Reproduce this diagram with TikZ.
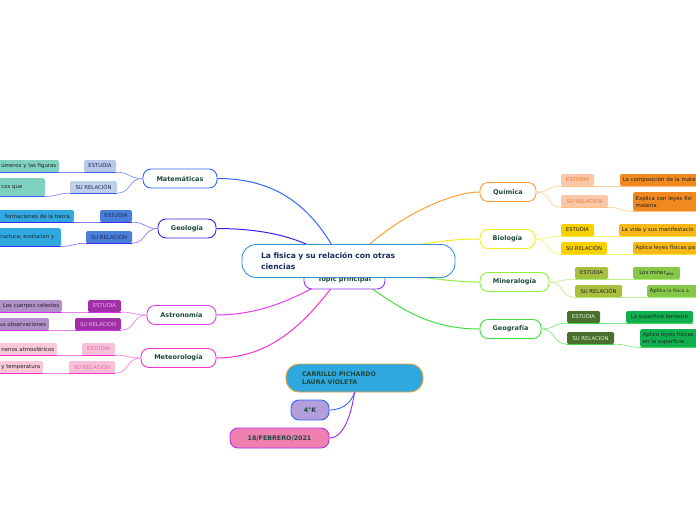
\documentclass[tikz,border=0pt]{standalone}
\usepackage{fontspec}
\setmainfont{DejaVu Sans}
\definecolor{maintext}{HTML}{1D4A3C}
\definecolor{centtext}{HTML}{1A2B5C}
\definecolor{txtdark}{HTML}{222222}
\definecolor{cMat}{HTML}{3366FF}\definecolor{lMat}{HTML}{8090FF}\definecolor{uMat}{HTML}{3A5CFF}
\definecolor{cGeo}{HTML}{3A20F0}\definecolor{lGeo}{HTML}{8A7DFF}\definecolor{uGeo}{HTML}{3A2BFF}
\definecolor{cAst}{HTML}{E040F0}\definecolor{lAst}{HTML}{E880F0}\definecolor{uAst}{HTML}{D030E8}
\definecolor{cMet}{HTML}{FF30D0}\definecolor{lMet}{HTML}{FF80E0}\definecolor{uMet}{HTML}{FF30D0}
\definecolor{cQui}{HTML}{FFA030}\definecolor{lQui}{HTML}{FFD0A0}\definecolor{uQui}{HTML}{FFC080}
\definecolor{cBio}{HTML}{F0F020}\definecolor{lBio}{HTML}{F4F470}\definecolor{uBio}{HTML}{F0E830}
\definecolor{cMin}{HTML}{90F040}\definecolor{lMin}{HTML}{C0F090}\definecolor{uMin}{HTML}{A8EC70}
\definecolor{cGeg}{HTML}{40E040}\definecolor{lGeg}{HTML}{80E880}\definecolor{uGeg}{HTML}{40D850}
\definecolor{cTop}{HTML}{9B30FF}
\definecolor{cCent}{HTML}{3A90D8}
\definecolor{cFec}{HTML}{A020F0}
\definecolor{cFecB}{HTML}{B030F0}
\definecolor{cCarB}{HTML}{E8A040}
\begin{document}
\begin{tikzpicture}[x=1pt,y=-1pt,
  mainnode/.style={draw, line width=0.9, rounded corners=8, fill=white, font=\fontsize{6.5}{7.5}\selectfont\bfseries, text=maintext, inner sep=0, minimum height=19},
  tagnode/.style={rounded corners=1.5, inner sep=0, minimum height=12, font=\fontsize{5.3}{6}\selectfont},
  txtnode/.style={rounded corners=1.5, inner xsep=2.5, inner ysep=0, minimum height=12, font=\fontsize{5.4}{6.4}\selectfont, text=txtdark},
  conn/.style={line width=0.7},
  uline/.style={line width=1.3},
  maincon/.style={line width=1},
  infonode/.style={draw, line width=0.9, rounded corners=8, inner sep=0, minimum height=20, font=\fontsize{6.3}{7.5}\selectfont\bfseries, text=maintext}
]
\useasboundingbox (0,0) rectangle (696,520);
\fill[white] (0,0) rectangle (696,520);
\clip (0,0) rectangle (696,520);

% hub coordinate
\coordinate (hub) at (345,270);

% main nodes
\node[mainnode, draw=cMat, minimum width=74] (mat) at (180,178.5) {Matemáticas};
\node[mainnode, draw=cGeo, minimum width=58] (geo) at (187,228.5) {Geología};
\node[mainnode, draw=cAst, minimum width=69] (ast) at (181.5,315) {Astronomía};
\node[mainnode, draw=cMet, minimum width=75] (met) at (178.5,358) {Meteorología};
\node[mainnode, draw=cQui, minimum width=56] (qui) at (508,192) {Química};
\node[mainnode, draw=cBio, minimum width=55] (bio) at (507.5,239) {Biología};
\node[mainnode, draw=cMin, minimum width=69] (min) at (514.5,282) {Mineralogía};
\node[mainnode, draw=cGeg, minimum width=61] (geg) at (510.5,329) {Geografía};

% main connectors
\draw[maincon, cMat] (mat.east) .. controls (282,178.5) and (318,212) .. (hub);
\draw[maincon, cGeo] (geo.east) .. controls (270,228.5) and (315,240) .. (hub);
\draw[maincon, cAst] (ast.east) .. controls (270,315) and (310,290) .. (hub);
\draw[maincon, cMet] (met.east) .. controls (280,358) and (315,310) .. (hub);
\draw[maincon, cQui] (qui.west) .. controls (450,192) and (385,220) .. (hub);
\draw[maincon, cBio] (bio.west) .. controls (455,239) and (400,242) .. (hub);
\draw[maincon, cMin] (min.west) .. controls (440,282) and (400,272) .. (hub);
\draw[maincon, cGeg] (geg.west) .. controls (420,329) and (390,300) .. (hub);

% topic principal (behind)
\node[draw=cTop, line width=0.9, rounded corners=8, fill=white, minimum width=81, minimum height=19, inner sep=0, text=maintext, font=\fontsize{6.5}{7.5}\selectfont\bfseries] (top) at (344.5,279.5) {\raisebox{-1.2pt}{Topic principal}};

% central node
\node[draw=cCent, line width=0.9, rounded corners=14, fill=white, inner xsep=19, inner ysep=0, text width=175, minimum height=33, align=left, text=centtext, font=\fontsize{7.6}{11}\selectfont\bfseries] (cen) at (348.5,261) {La fisica y su relación con otras\\ciencias};

% ---------- Matemáticas children
\node[tagnode, fill={rgb,255:red,184;green,200;blue,232}, text=centtext, minimum width=32] (mE) at (100,166) {ESTUDIA};
\node[txtnode, fill={rgb,255:red,128;green,208;blue,192}, anchor=east, text width=60, align=right] (mT1) at (59,166) {úmeros y las figuras};
\node[tagnode, fill={rgb,255:red,192;green,208;blue,232}, text=centtext, minimum width=47] (mS) at (93.5,187) {SU RELACIÓN};
\node[txtnode, fill={rgb,255:red,128;green,208;blue,192}, anchor=north east, minimum height=18, inner ysep=2, text width=41, align=left] (mT2) at (45,178) {cos que\\{}};
\draw[conn, lMat] (mat.west) .. controls +(-14,0) and +(14,0) .. (mE.south east);
\draw[conn, lMat] (mat.west) .. controls +(-14,0) and +(14,0) .. (mS.south east);
\draw[uline, uMat] (mE.south east) -- (mE.south west);
\draw[conn, lMat] (mE.south west) -- (mT1.south east);
\draw[uline, uMat] (mT1.south east) -- (mT1.south west);
\draw[uline, uMat] (mS.south east) -- (mS.south west);
\draw[conn, lMat] (mS.south west) .. controls +(-12,0) and +(12,0) .. (mT2.south east);
\draw[uline, uMat] (mT2.south east) -- (mT2.south west);

% ---------- Geología children
\node[tagnode, fill={rgb,255:red,74;green,127;blue,216}, text=centtext, minimum width=32] (gE) at (116,216) {ESTUDIA};
\node[txtnode, fill={rgb,255:red,48;green,168;blue,224}, anchor=east, text width=76, align=right] (gT1) at (74,216) {formaciones de la tierra.};
\node[tagnode, fill={rgb,255:red,74;green,127;blue,216}, text=centtext, minimum width=46] (gS) at (109,237) {SU RELACIÓN};
\node[txtnode, fill={rgb,255:red,48;green,168;blue,224}, anchor=north east, minimum height=18, inner ysep=2, text width=58, align=left] (gT2) at (61,228) {ructura, evolucion y\\{}};
\draw[conn, lGeo] (geo.west) .. controls +(-14,0) and +(14,0) .. (gE.south east);
\draw[conn, lGeo] (geo.west) .. controls +(-14,0) and +(14,0) .. (gS.south east);
\draw[uline, uGeo] (gE.south east) -- (gE.south west);
\draw[conn, lGeo] (gE.south west) -- (gT1.south east);
\draw[uline, uGeo] (gT1.south east) -- (gT1.south west);
\draw[uline, uGeo] (gS.south east) -- (gS.south west);
\draw[conn, lGeo] (gS.south west) .. controls +(-12,0) and +(12,0) .. (gT2.south east);
\draw[uline, uGeo] (gT2.south east) -- (gT2.south west);

% ---------- Astronomía children
\node[tagnode, fill={rgb,255:red,160;green,48;blue,168}, text={rgb,255:red,240;green,176;blue,240}, minimum width=33] (aE) at (104.5,306) {ESTUDIA};
\node[txtnode, fill={rgb,255:red,176;green,144;blue,200}, anchor=east, text width=66, align=right] (aT1) at (62,306) {Los cuerpos celestes};
\node[tagnode, fill={rgb,255:red,160;green,48;blue,168}, text={rgb,255:red,240;green,176;blue,240}, minimum width=46] (aS) at (98,324) {SU RELACIÓN};
\node[txtnode, fill={rgb,255:red,176;green,144;blue,200}, anchor=east, text width=50, align=right] (aT2) at (49,324) {us observaciones};
\draw[conn, lAst] (ast.west) .. controls +(-14,0) and +(14,0) .. (aE.south east);
\draw[conn, lAst] (ast.west) .. controls +(-14,0) and +(14,0) .. (aS.south east);
\draw[uline, uAst] (aE.south east) -- (aE.south west);
\draw[conn, lAst] (aE.south west) -- (aT1.south east);
\draw[uline, uAst] (aT1.south east) -- (aT1.south west);
\draw[uline, uAst] (aS.south east) -- (aS.south west);
\draw[conn, lAst] (aS.south west) -- (aT2.south east);
\draw[uline, uAst] (aT2.south east) -- (aT2.south west);

% ---------- Meteorología children
\node[tagnode, fill={rgb,255:red,248;green,192;blue,216}, text={rgb,255:red,232;green,106;blue,168}, minimum width=33] (tE) at (98.5,349) {ESTUDIA};
\node[txtnode, fill={rgb,255:red,248;green,200;blue,216}, anchor=east, text width=58, align=right] (tT1) at (57,349) {nenos atmosféricos};
\node[tagnode, fill={rgb,255:red,248;green,192;blue,216}, text={rgb,255:red,232;green,106;blue,168}, minimum width=46] (tS) at (92,367) {SU RELACIÓN};
\node[txtnode, fill={rgb,255:red,248;green,200;blue,216}, anchor=east, text width=44, align=right] (tT2) at (43,367) {y temperatura};
\draw[conn, lMet] (met.west) .. controls +(-14,0) and +(14,0) .. (tE.south east);
\draw[conn, lMet] (met.west) .. controls +(-14,0) and +(14,0) .. (tS.south east);
\draw[uline, uMet] (tE.south east) -- (tE.south west);
\draw[conn, lMet] (tE.south west) -- (tT1.south east);
\draw[uline, uMet] (tT1.south east) -- (tT1.south west);
\draw[uline, uMet] (tS.south east) -- (tS.south west);
\draw[conn, lMet] (tS.south west) -- (tT2.south east);
\draw[uline, uMet] (tT2.south east) -- (tT2.south west);

% ---------- Química children
\node[tagnode, fill={rgb,255:red,248;green,200;blue,168}, text={rgb,255:red,240;green,120;blue,56}, minimum width=33] (qE) at (577.5,180) {ESTUDIA};
\node[txtnode, fill={rgb,255:red,240;green,138;blue,32}, anchor=west, text width=90, align=left] (qT1) at (620,180) {La composición de la mate};
\node[tagnode, fill={rgb,255:red,248;green,200;blue,168}, text={rgb,255:red,240;green,120;blue,56}, minimum width=47] (qS) at (584.5,201) {SU RELACIÓN};
\node[txtnode, fill={rgb,255:red,240;green,138;blue,32}, anchor=north west, minimum height=19, inner ysep=2, text width=80, align=left] (qT2) at (633,192) {Explica con leyes físi\\materia.};
\draw[conn, lQui] (qui.east) .. controls +(14,0) and +(-14,0) .. (qE.south west);
\draw[conn, lQui] (qui.east) .. controls +(14,0) and +(-14,0) .. (qS.south west);
\draw[uline, uQui] (qE.south west) -- (qE.south east);
\draw[conn, lQui] (qE.south east) -- (qT1.south west);
\draw[uline, uQui] (qT1.south west) -- (qT1.south east);
\draw[uline, uQui] (qS.south west) -- (qS.south east);
\draw[conn, lQui] (qS.south east) .. controls +(12,0) and +(-12,0) .. (qT2.south west);
\draw[uline, uQui] (qT2.south west) -- (qT2.south east);

% ---------- Biología children
\node[tagnode, fill={rgb,255:red,248;green,208;blue,0}, text=txtdark, minimum width=33] (bE) at (577.5,230) {ESTUDIA};
\node[txtnode, fill={rgb,255:red,248;green,184;blue,24}, anchor=west, text width=90, align=left] (bT1) at (619,230) {La vida y sus manifestacio};
\node[tagnode, fill={rgb,255:red,248;green,208;blue,0}, text=txtdark, minimum width=46] (bS) at (584,248) {SU RELACIÓN};
\node[txtnode, fill={rgb,255:red,248;green,184;blue,24}, anchor=west, text width=80, align=left] (bT2) at (633,248) {Aplica leyes físicas pa};
\draw[conn, lBio] (bio.east) .. controls +(14,0) and +(-14,0) .. (bE.south west);
\draw[conn, lBio] (bio.east) .. controls +(14,0) and +(-14,0) .. (bS.south west);
\draw[uline, uBio] (bE.south west) -- (bE.south east);
\draw[conn, lBio] (bE.south east) -- (bT1.south west);
\draw[uline, uBio] (bT1.south west) -- (bT1.south east);
\draw[uline, uBio] (bS.south west) -- (bS.south east);
\draw[conn, lBio] (bS.south east) -- (bT2.south west);
\draw[uline, uBio] (bT2.south west) -- (bT2.south east);

% ---------- Mineralogía children
\node[tagnode, fill={rgb,255:red,168;green,192;blue,64}, text=txtdark, minimum width=33] (nE) at (591.5,273) {ESTUDIA};
\node[txtnode, fill={rgb,255:red,136;green,200;blue,72}, minimum width=47] (nT1) at (656.5,273) {Los miner\raisebox{-0.6pt}{\fontsize{3.9}{4}\selectfont ales}};
\node[tagnode, fill={rgb,255:red,168;green,192;blue,64}, text=txtdark, minimum width=47] (nS) at (598.5,291) {SU RELACIÓN};
\node[txtnode, fill={rgb,255:red,136;green,200;blue,72}, anchor=west, text width=70, align=left] (nT2) at (647,291) {Aplic{\fontsize{4.4}{5}\selectfont a la física a}};
\draw[conn, lMin] (min.east) .. controls +(14,0) and +(-14,0) .. (nE.south west);
\draw[conn, lMin] (min.east) .. controls +(14,0) and +(-14,0) .. (nS.south west);
\draw[uline, uMin] (nE.south west) -- (nE.south east);
\draw[conn, lMin] (nE.south east) -- (nT1.south west);
\draw[uline, uMin] (nT1.south west) -- (nT1.south east);
\draw[uline, uMin] (nS.south west) -- (nS.south east);
\draw[conn, lMin] (nS.south east) -- (nT2.south west);
\draw[uline, uMin] (nT2.south west) -- (nT2.south east);

% ---------- Geografía children
\node[tagnode, fill={rgb,255:red,74;green,112;blue,48}, text={rgb,255:red,224;green,240;blue,208}, minimum width=33] (eE) at (583.5,317) {ESTUDIA};
\node[txtnode, fill={rgb,255:red,16;green,176;blue,80}, minimum width=67, font=\fontsize{5.2}{6}\selectfont] (eT1) at (659.5,317) {La superficie terrestre};
\node[tagnode, fill={rgb,255:red,74;green,112;blue,48}, text={rgb,255:red,224;green,240;blue,208}, minimum width=47] (eS) at (590.5,338) {SU RELACIÓN};
\node[txtnode, fill={rgb,255:red,16;green,176;blue,80}, anchor=north west, minimum height=18, inner ysep=2, text width=70, align=left] (eT2) at (640,329) {Aplica leyes físicas\\en la superficie.};
\draw[conn, lGeg] (geg.east) .. controls +(14,0) and +(-14,0) .. (eE.south west);
\draw[conn, lGeg] (geg.east) .. controls +(14,0) and +(-14,0) .. (eS.south west);
\draw[uline, uGeg] (eE.south west) -- (eE.south east);
\draw[conn, lGeg] (eE.south east) -- (eT1.south west);
\draw[uline, uGeg] (eT1.south west) -- (eT1.south east);
\draw[uline, uGeg] (eS.south west) -- (eS.south east);
\draw[conn, lGeg] (eS.south east) .. controls +(12,0) and +(-12,0) .. (eT2.south west);
\draw[uline, uGeg] (eT2.south west) -- (eT2.south east);

% ---------- author block
\node[draw=cCarB, fill={rgb,255:red,47;green,168;blue,224}, line width=0.9, rounded corners=13, minimum height=28, inner xsep=16, inner ysep=0, text width=105, align=left, text=maintext, font=\fontsize{6.3}{8}\selectfont\bfseries] (car) at (354.5,378) {CARRILLO PICHARDO\\LAURA VIOLETA};
\node[infonode, draw=cMat, fill={rgb,255:red,179;green,157;blue,219}, minimum width=38] (grp) at (310,410) {4°K};
\node[infonode, draw=cFecB, fill={rgb,255:red,240;green,128;blue,176}, minimum width=99] (fec) at (279.5,438) {18/FEBRERO/2021};
\draw[line width=0.9, color=cMat] (grp.east) .. controls (345,410) and (352,400) .. (car.south);
\draw[line width=0.9, color=cFec] (fec.east) .. controls (345,438) and (352,410) .. (car.south);
\end{tikzpicture}
\end{document}
